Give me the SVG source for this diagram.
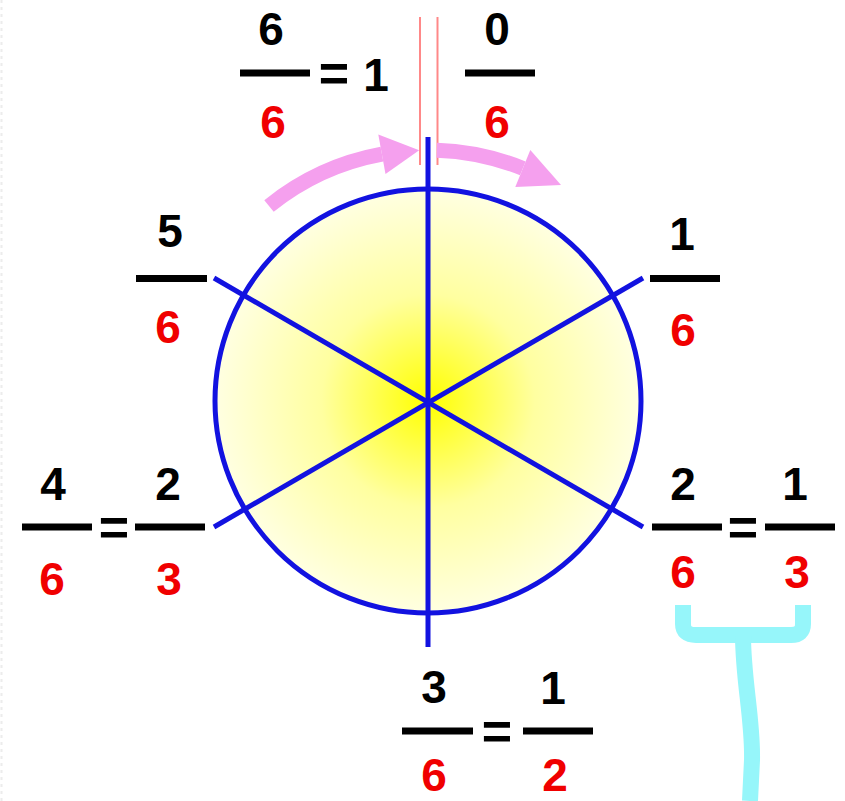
<svg xmlns="http://www.w3.org/2000/svg" width="845" height="801" viewBox="0 0 845 801">
<defs>
<radialGradient id="yel" cx="428" cy="401" r="213" gradientUnits="userSpaceOnUse">
<stop offset="0" stop-color="#ffff00"/>
<stop offset="0.5" stop-color="#ffffa0"/>
<stop offset="1" stop-color="#ffffe2"/>
</radialGradient>
</defs>
<style>
.n{font-family:"Liberation Sans",Arial,sans-serif;font-weight:bold;font-size:46px;text-anchor:middle;fill:#000}
.d{fill:#f00000}
.eq{font-size:52px}
.bar{fill:#000}
.sp{stroke:#1212e0;stroke-width:5;fill:none}
.disc{stroke:#1212e0;stroke-width:5;fill:url(#yel)}
.pk{stroke:#f5a0ee;stroke-width:15;fill:none}
.pkh{fill:#f5a0ee}
.rl{stroke:#ff8888;stroke-width:2}
.br{stroke:#96f6fa;stroke-width:16;fill:none;stroke-linejoin:round}
</style>
<rect width="845" height="801" fill="#fff"/>
<line x1="1.5" y1="0" x2="1.5" y2="801" stroke="#ececec" stroke-width="2" stroke-dasharray="3 4"/>

<g id="wheel">
<ellipse class="disc" cx="428" cy="401" rx="213" ry="212"/>
</g>

<g id="connectors">
<line class="sp" x1="428" y1="137" x2="428" y2="647"/>
<line class="sp" x1="214" y1="278" x2="643" y2="527"/>
<line class="sp" x1="643" y1="278" x2="214" y2="527"/>
<line class="rl" x1="420" y1="17" x2="420" y2="165"/>
<line class="rl" x1="437.5" y1="17" x2="437.5" y2="165"/>
</g>

<g id="arrow-left">
<path class="pk" d="M269,206 A253,253 0 0 1 381.9,154.2"/>
<polygon class="pkh" points="378.3,134.6 419.2,150.2 385.5,173.9"/>
</g>
<g id="arrow-right">
<path class="pk" d="M436.8,150.2 A253,253 0 0 1 522.8,168.4"/>
<polygon class="pkh" points="530.3,149.9 561,185 515.3,187"/>
</g>

<g id="label-6-6">
<text class="n" x="271" y="45">6</text>
<rect class="bar" x="240" y="69.5" width="70" height="7"/>
<text class="n d" x="273" y="138">6</text>
<text class="n eq" x="334" y="91">=</text>
<text class="n" x="376" y="91">1</text>
</g>

<g id="label-0-6">
<text class="n" x="497" y="45">0</text>
<rect class="bar" x="465" y="69.5" width="70" height="7"/>
<text class="n d" x="497" y="138">6</text>
</g>

<g id="label-5-6">
<text class="n" x="170" y="247">5</text>
<rect class="bar" x="136" y="275" width="71" height="7"/>
<text class="n d" x="168" y="343">6</text>
</g>

<g id="label-1-6">
<text class="n" x="682" y="250">1</text>
<rect class="bar" x="650" y="275" width="70" height="7"/>
<text class="n d" x="683" y="346">6</text>
</g>

<g id="label-4-6">
<text class="n" x="53" y="500">4</text>
<rect class="bar" x="22" y="523.5" width="70" height="7"/>
<text class="n d" x="52" y="595">6</text>
<text class="n eq" x="114" y="545">=</text>
<text class="n" x="168" y="500">2</text>
<rect class="bar" x="135" y="523.5" width="70" height="7"/>
<text class="n d" x="169" y="595">3</text>
</g>

<g id="label-2-6">
<text class="n" x="683" y="500">2</text>
<rect class="bar" x="652" y="523.5" width="70" height="7"/>
<text class="n d" x="683" y="588">6</text>
<text class="n eq" x="743" y="545">=</text>
<text class="n" x="795" y="500">1</text>
<rect class="bar" x="765" y="523.5" width="70" height="7"/>
<text class="n d" x="797" y="588">3</text>
</g>

<g id="label-3-6">
<text class="n" x="434" y="703">3</text>
<rect class="bar" x="402" y="727.5" width="71" height="7"/>
<text class="n d" x="434" y="791">6</text>
<text class="n eq" x="497" y="749">=</text>
<text class="n" x="553" y="704">1</text>
<rect class="bar" x="523" y="727.5" width="70" height="7"/>
<text class="n d" x="555" y="791">2</text>
</g>

<g id="bracket">
<path class="br" d="M683,605 L683,624 Q683,635 696,635 L791,635 Q803,635 803,624 L803,605"/>
<path class="br" d="M743,635 C743,680 753,720 752,760 L750,801"/>
</g>
</svg>
